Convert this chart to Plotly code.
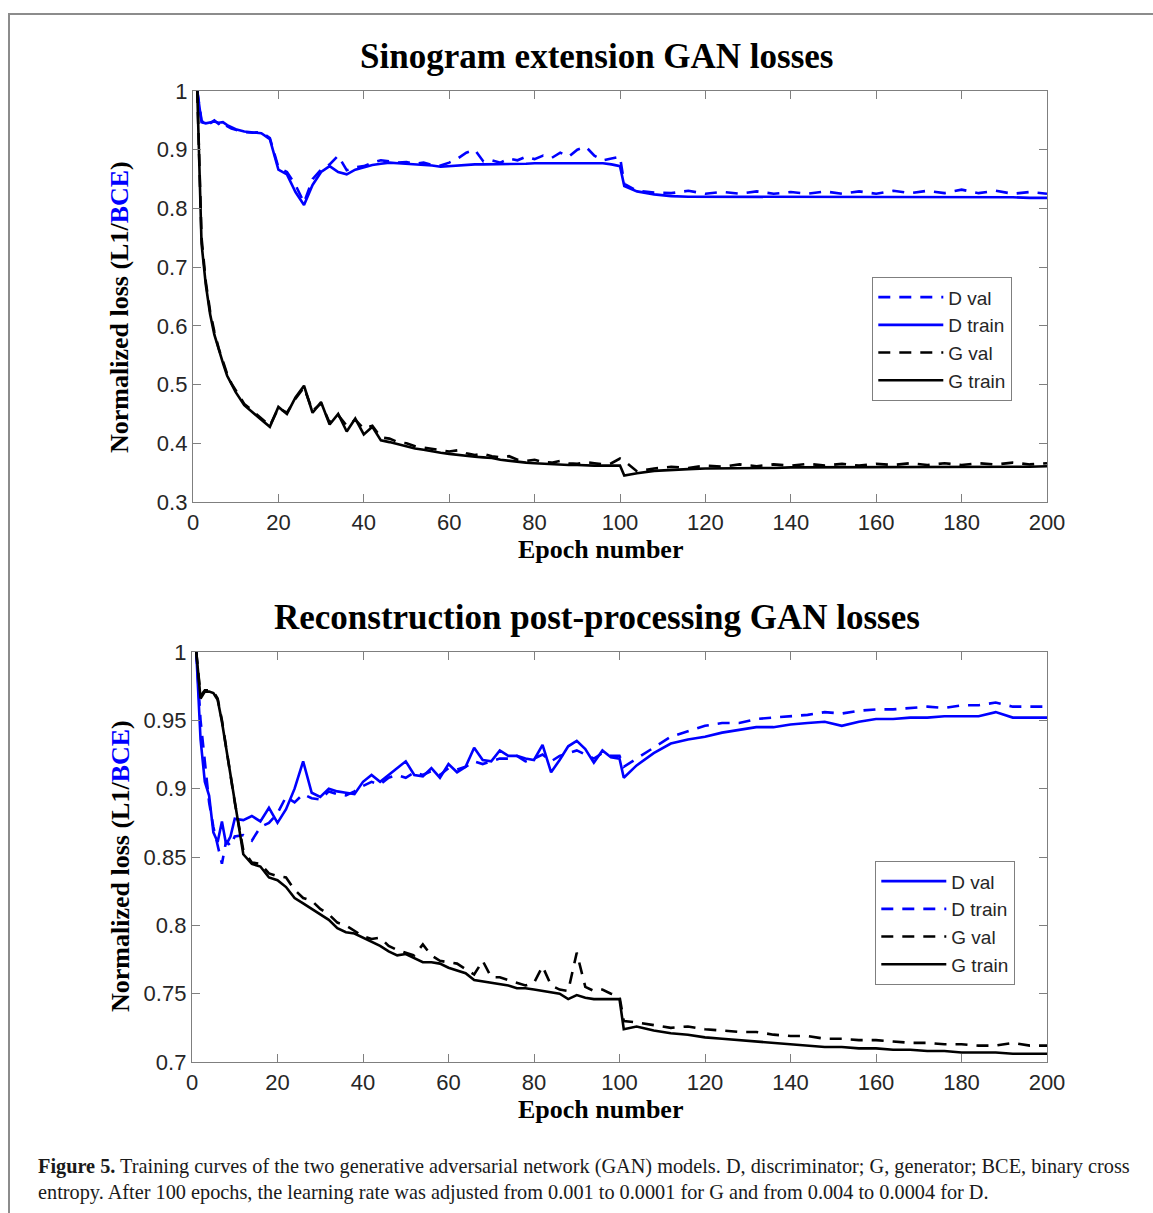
import plotly.graph_objects as go

# ---------------- data ----------------
EPOCHS = [1, 2, 3, 4, 5, 6, 7, 8, 9, 10] + list(range(12, 101, 2)) + [101] + list(range(104, 201, 4))

# Top chart: Sinogram extension GAN
top_d_val = [1.0, 0.95, 0.94, 0.945, 0.95, 0.944, 0.948, 0.94, 0.936, 0.934,
             0.93, 0.929, 0.93, 0.92, 0.87, 0.862, 0.84, 0.81, 0.85, 0.866,
             0.875, 0.89, 0.865, 0.87, 0.872, 0.878, 0.882, 0.88, 0.878, 0.879,
             0.876, 0.878, 0.874, 0.873, 0.878, 0.885, 0.895, 0.9, 0.88, 0.882,
             0.878, 0.885, 0.882, 0.888, 0.884, 0.89, 0.886, 0.895, 0.888, 0.9,
             0.905, 0.89, 0.882, 0.885, 0.888,
             0.842, 0.83, 0.827, 0.826, 0.83, 0.825, 0.828, 0.825, 0.829, 0.825,
             0.828, 0.825, 0.829, 0.825, 0.829, 0.825, 0.83, 0.826, 0.83, 0.826,
             0.832, 0.826, 0.83, 0.825, 0.828, 0.825]
top_d_train = [1.0, 0.947, 0.945, 0.947, 0.948, 0.946, 0.947, 0.942, 0.938, 0.935,
               0.931, 0.93, 0.928, 0.918, 0.866, 0.858, 0.828, 0.806, 0.84, 0.862,
               0.872, 0.862, 0.858, 0.866, 0.87, 0.874, 0.876, 0.878, 0.877, 0.876,
               0.875, 0.875, 0.873, 0.871, 0.872, 0.874, 0.875, 0.875, 0.875, 0.875,
               0.876, 0.876, 0.876, 0.876, 0.877, 0.877, 0.877, 0.877, 0.878, 0.878,
               0.878, 0.878, 0.877, 0.875, 0.872,
               0.838, 0.829, 0.824, 0.821, 0.82, 0.82, 0.82, 0.82, 0.82, 0.82,
               0.82, 0.82, 0.82, 0.82, 0.82, 0.82, 0.82, 0.82, 0.82, 0.82,
               0.82, 0.819, 0.819, 0.819, 0.818, 0.818]
top_g_val = [1.0, 0.75, 0.675, 0.625, 0.59, 0.562, 0.54, 0.518, 0.502, 0.49,
             0.467, 0.455, 0.442, 0.43, 0.46, 0.452, 0.476, 0.495, 0.455, 0.468,
             0.435, 0.448, 0.43, 0.44, 0.425, 0.43, 0.41, 0.408, 0.402, 0.4,
             0.395, 0.393, 0.39, 0.388, 0.386, 0.388, 0.383, 0.38, 0.382, 0.378,
             0.376, 0.378, 0.372, 0.37, 0.372, 0.368, 0.367, 0.37, 0.366, 0.365,
             0.368, 0.366, 0.364, 0.366, 0.374,
             0.37, 0.352, 0.357, 0.36, 0.358, 0.362, 0.36, 0.364, 0.361, 0.364,
             0.362, 0.365, 0.362, 0.365, 0.362, 0.365, 0.363, 0.366, 0.363, 0.366,
             0.363, 0.366, 0.364, 0.367, 0.364, 0.366]
top_g_train = [1.0, 0.74, 0.67, 0.62, 0.585, 0.56, 0.537, 0.515, 0.5, 0.487,
               0.465, 0.452, 0.44, 0.428, 0.462, 0.45, 0.478, 0.498, 0.452, 0.47,
               0.432, 0.45, 0.42, 0.442, 0.415, 0.428, 0.405, 0.402, 0.398, 0.394,
               0.391, 0.389, 0.386, 0.384, 0.382, 0.38, 0.378, 0.377, 0.376, 0.375,
               0.372, 0.37, 0.368, 0.367, 0.366, 0.365, 0.365, 0.364, 0.363, 0.363,
               0.362, 0.362, 0.362, 0.362, 0.362,
               0.345, 0.349, 0.353, 0.355, 0.356, 0.357, 0.357, 0.358, 0.358, 0.358,
               0.359, 0.359, 0.359, 0.359, 0.359, 0.36, 0.36, 0.36, 0.36, 0.36,
               0.36, 0.36, 0.36, 0.36, 0.36, 0.361]

# Bottom chart: Reconstruction post-processing GAN
bot_d_val = [1.0, 0.936, 0.905, 0.895, 0.868, 0.861, 0.876, 0.859, 0.865, 0.878,
             0.877, 0.88, 0.876, 0.886, 0.875, 0.885, 0.9, 0.92, 0.897, 0.894,
             0.9, 0.898, 0.897, 0.896, 0.905, 0.91, 0.905, 0.91, 0.915, 0.92,
             0.91, 0.909, 0.915, 0.908, 0.918, 0.912, 0.916, 0.93, 0.921, 0.92,
             0.928, 0.924, 0.924, 0.922, 0.921, 0.932, 0.912, 0.921, 0.931, 0.935,
             0.929, 0.919, 0.928, 0.923, 0.922,
             0.908, 0.917, 0.926, 0.933, 0.936, 0.938, 0.941, 0.943, 0.945, 0.945,
             0.947, 0.948, 0.949, 0.946, 0.949, 0.951, 0.951, 0.952, 0.952, 0.953,
             0.953, 0.953, 0.956, 0.952, 0.952, 0.952]
bot_d_train = [1.0, 0.95, 0.92, 0.89, 0.872, 0.858, 0.845, 0.862, 0.858, 0.865,
               0.866, 0.862, 0.872, 0.875, 0.882, 0.894, 0.89, 0.896, 0.893, 0.892,
               0.898, 0.896, 0.895, 0.898, 0.902, 0.905, 0.903, 0.908, 0.91, 0.908,
               0.912, 0.91, 0.913, 0.91, 0.915, 0.914, 0.916, 0.92, 0.918, 0.92,
               0.922, 0.922, 0.924, 0.92, 0.922, 0.925, 0.92, 0.924, 0.926, 0.928,
               0.925, 0.922, 0.926, 0.924, 0.924,
               0.916, 0.922, 0.93, 0.938, 0.942, 0.946, 0.948, 0.948, 0.951, 0.952,
               0.953, 0.954, 0.956, 0.955, 0.957, 0.958, 0.958, 0.959, 0.96, 0.959,
               0.961, 0.961, 0.963, 0.96, 0.96, 0.96]
bot_g_val = [1.0, 0.968, 0.972, 0.972, 0.971, 0.966, 0.95, 0.93, 0.907, 0.89,
             0.855, 0.846, 0.845, 0.838, 0.836, 0.835, 0.826, 0.82, 0.818, 0.812,
             0.808, 0.802, 0.8, 0.796, 0.792, 0.79, 0.791, 0.785, 0.782, 0.78,
             0.778, 0.786, 0.778, 0.774, 0.773, 0.772, 0.768, 0.764, 0.774, 0.762,
             0.762, 0.76, 0.758, 0.756, 0.758, 0.77, 0.756, 0.753, 0.752, 0.78,
             0.755, 0.752, 0.753, 0.75, 0.748,
             0.73, 0.729, 0.727, 0.725, 0.726, 0.724, 0.723, 0.722, 0.722, 0.72,
             0.719, 0.719, 0.717, 0.717, 0.716, 0.716, 0.715, 0.714, 0.714, 0.713,
             0.713, 0.712, 0.712, 0.714, 0.712, 0.712]
bot_g_train = [1.0, 0.966, 0.971, 0.971, 0.97, 0.965, 0.949, 0.93, 0.91, 0.89,
               0.852, 0.845, 0.843, 0.835, 0.833, 0.828, 0.82, 0.816, 0.812, 0.808,
               0.804, 0.798, 0.795, 0.794, 0.791, 0.788, 0.785, 0.781, 0.778, 0.779,
               0.776, 0.773, 0.773, 0.772, 0.769, 0.767, 0.765, 0.76, 0.759, 0.758,
               0.757, 0.756, 0.754, 0.754, 0.753, 0.752, 0.751, 0.75, 0.746, 0.749,
               0.747, 0.746, 0.746, 0.746, 0.746,
               0.724, 0.726, 0.723, 0.721, 0.72, 0.718, 0.717, 0.716, 0.715, 0.714,
               0.713, 0.712, 0.711, 0.711, 0.71, 0.71, 0.709, 0.709, 0.708, 0.708,
               0.707, 0.707, 0.707, 0.706, 0.706, 0.706]

X_TICKS = [0, 20, 40, 60, 80, 100, 120, 140, 160, 180, 200]
TOP_Y_TICKS = [0.3, 0.4, 0.5, 0.6, 0.7, 0.8, 0.9, 1.0]
TOP_Y_LABELS = ["0.3", "0.4", "0.5", "0.6", "0.7", "0.8", "0.9", "1"]
BOT_Y_TICKS = [0.7, 0.75, 0.8, 0.85, 0.9, 0.95, 1.0]
BOT_Y_LABELS = ["0.7", "0.75", "0.8", "0.85", "0.9", "0.95", "1"]

TITLE_TOP = "Sinogram extension GAN losses"
TITLE_BOT = "Reconstruction post-processing GAN losses"
X_TITLE = "Epoch number"
CAPTION_1 = ("<b>Figure 5.</b> Training curves of the two generative adversarial network (GAN) models. "
             "D, discriminator; G, generator; BCE, binary cross")
CAPTION_2 = ("entropy. After 100 epochs, the learning rate was adjusted from 0.001 to 0.0001 for G "
             "and from 0.004 to 0.0004 for D.")

# ---------------- figure ----------------
W, H = 1153, 1213
BLUE = "#0000ff"
BLACK = "#000000"
DASH = "12px,9px"
LW = 2.6

fig = go.Figure()

def add(x, y, name, color, dash, xa, ya, legend):
    fig.add_trace(go.Scatter(
        x=x, y=y, name=name, mode="lines",
        line=dict(color=color, width=LW, dash=dash),
        xaxis=xa, yaxis=ya, legend=legend))

# top legend order: D val (dashed), D train, G val (dashed), G train
add(EPOCHS, top_d_val, "D val", BLUE, DASH, "x", "y", "legend")
add(EPOCHS, top_d_train, "D train", BLUE, "solid", "x", "y", "legend")
add(EPOCHS, top_g_val, "G val", BLACK, DASH, "x", "y", "legend")
add(EPOCHS, top_g_train, "G train", BLACK, "solid", "x", "y", "legend")

# bottom legend order: D val (solid), D train (dashed), G val (dashed), G train
add(EPOCHS, bot_d_val, "D val", BLUE, "solid", "x2", "y2", "legend2")
add(EPOCHS, bot_d_train, "D train", BLUE, DASH, "x2", "y2", "legend2")
add(EPOCHS, bot_g_val, "G val", BLACK, DASH, "x2", "y2", "legend2")
add(EPOCHS, bot_g_train, "G train", BLACK, "solid", "x2", "y2", "legend2")

def px(v):
    return v / W

def py(v):
    return 1 - v / H

tickfont = dict(family="Liberation Sans, Arial", size=22, color="#262626")
axis_common = dict(showline=True, linecolor="#7f7f7f", linewidth=1.3, mirror="allticks",
                   ticks="inside", ticklen=8, tickcolor="#7f7f7f", tickwidth=1,
                   showgrid=False, zeroline=False, tickfont=tickfont, automargin=False)

legend_font = dict(family="Liberation Sans, Arial", size=19, color="#262626")
fig.update_layout(
    width=W, height=H,
    margin=dict(l=0, r=0, t=0, b=0, autoexpand=False),
    paper_bgcolor="white", plot_bgcolor="white",
    xaxis=dict(domain=[px(193), px(1047)], range=[0, 200], tickvals=X_TICKS,
               anchor="y", **axis_common),
    yaxis=dict(domain=[py(502), py(91)], range=[0.3, 1.0], tickvals=TOP_Y_TICKS,
               ticktext=TOP_Y_LABELS, anchor="x", **axis_common),
    xaxis2=dict(domain=[px(192), px(1047)], range=[0, 200], tickvals=X_TICKS,
                anchor="y2", **axis_common),
    yaxis2=dict(domain=[py(1062), py(652)], range=[0.7, 1.0], tickvals=BOT_Y_TICKS,
                ticktext=BOT_Y_LABELS, anchor="x2", **axis_common),
    legend=dict(x=px(872), y=py(277), xanchor="left", yanchor="top",
                bgcolor="white", bordercolor="#7f7f7f", borderwidth=1.3,
                font=legend_font, tracegroupgap=0, itemwidth=65),
    legend2=dict(x=px(875), y=py(861), xanchor="left", yanchor="top",
                 bgcolor="white", bordercolor="#7f7f7f", borderwidth=1.3,
                 font=legend_font, tracegroupgap=0, itemwidth=65),
    showlegend=True,
)

serif = "Liberation Serif, Times New Roman, serif"
ann = []
ann.append(dict(text="<b>" + TITLE_TOP + "</b>", x=px(597), y=py(56), xref="paper", yref="paper",
                showarrow=False, xanchor="center", yanchor="middle",
                font=dict(family=serif, size=35, color="black")))
ann.append(dict(text="<b>" + TITLE_BOT + "</b>", x=px(597), y=py(617), xref="paper", yref="paper",
                showarrow=False, xanchor="center", yanchor="middle",
                font=dict(family=serif, size=35, color="black")))
for yc in (549, 1109):
    ann.append(dict(text="<b>" + X_TITLE + "</b>", x=px(600), y=py(yc), xref="paper", yref="paper",
                    showarrow=False, xanchor="center", yanchor="middle",
                    font=dict(family=serif, size=26, color="black")))
ylab = "<b>Normalized loss (L1/<span style='color:#0000ff'>BCE</span>)</b>"
for yc in (307, 866):
    ann.append(dict(text=ylab, x=px(120), y=py(yc), xref="paper", yref="paper",
                    showarrow=False, xanchor="center", yanchor="middle", textangle=-90,
                    font=dict(family=serif, size=26, color="black")))
ann.append(dict(text=CAPTION_1, x=px(36), y=py(1166), xref="paper", yref="paper",
                showarrow=False, xanchor="left", yanchor="middle",
                font=dict(family=serif, size=20.3, color="#1a1a1a")))
ann.append(dict(text=CAPTION_2, x=px(36), y=py(1192), xref="paper", yref="paper",
                showarrow=False, xanchor="left", yanchor="middle",
                font=dict(family=serif, size=20.3, color="#1a1a1a")))
fig.update_layout(annotations=ann)

# outer frame of the figure panel
fig.add_shape(type="rect", xref="paper", yref="paper",
              x0=px(9), x1=1.05, y0=-0.05, y1=py(14),
              line=dict(color="#8c8c8c", width=2), fillcolor="rgba(0,0,0,0)", layer="below")

fig.write_html("out.html")
